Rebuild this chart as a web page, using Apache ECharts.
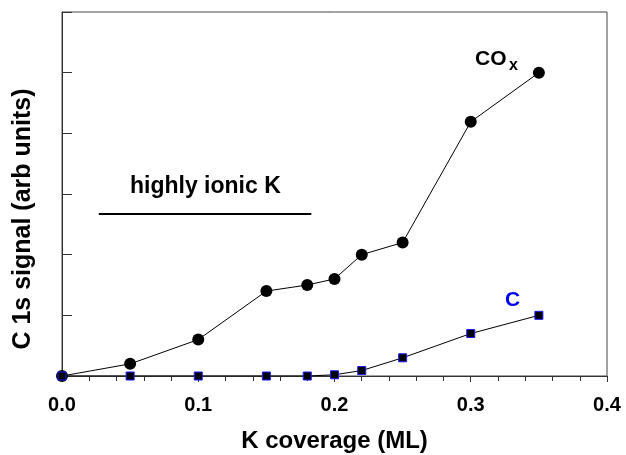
<!DOCTYPE html>
<html><head><meta charset="utf-8">
<script src="https://cdn.jsdelivr.net/npm/echarts@6/dist/echarts.min.js"></script>
<style>html,body{margin:0;padding:0;background:#fff}#c{width:626px;height:455px}</style>
</head><body><div id="c"></div>
<script>
const coverage = [0, 0.05, 0.1, 0.15, 0.18, 0.2, 0.22, 0.25, 0.3, 0.35];
const coxValues = [0, 0.20, 0.60, 1.40, 1.50, 1.60, 2.00, 2.20, 4.19, 5.00];
const cValues = [0, 0, 0, 0, 0, 0.02, 0.09, 0.30, 0.70, 1.00];
const xTicks = ['0.0', '0.1', '0.2', '0.3', '0.4'];
const ionicLineX = [0.027, 0.183];
const ionicLineY = 2.67;

const font = 'Liberation Sans, Arial, sans-serif';
const chart = echarts.init(document.getElementById('c'), null, {renderer: 'canvas'});
chart.setOption({
  animation: false,
  grid: {left: 62, right: 19, top: 12, bottom: 79, outerBoundsMode: 'none', show: true, borderColor: '#444', borderWidth: 1, backgroundColor: 'transparent'},
  xAxis: {
    type: 'value', min: 0, max: 0.4, interval: 0.1,
    name: 'K coverage (ML)', nameLocation: 'middle', nameGap: 53,
    nameTextStyle: {fontFamily: font, fontWeight: 'bold', fontSize: 24, color: '#000'},
    axisLine: {show: true, lineStyle: {color: '#333', width: 1}},
    axisTick: {show: true, inside: false, length: 6, lineStyle: {color: '#333'}},
    minorTick: {show: true, splitNumber: 5, length: 5, lineStyle: {color: '#333'}},
    splitLine: {show: false},
    axisLabel: {fontFamily: font, fontWeight: 'bold', fontSize: 20, color: '#000', margin: 19,
      formatter: v => xTicks[Math.round(v * 10)]}
  },
  yAxis: {
    type: 'value', min: 0, max: 6, interval: 1,
    name: 'C 1s signal (arb units)', nameLocation: 'middle', nameGap: 26,
    nameTextStyle: {fontFamily: font, fontWeight: 'bold', fontSize: 25, color: '#000', padding: [0, 50, 0, 0]},
    axisLine: {show: true, lineStyle: {color: '#333', width: 1}},
    axisTick: {show: true, inside: true, length: 10, lineStyle: {color: '#333'}},
    splitLine: {show: false},
    axisLabel: {show: false}
  },
  series: [
    {
      name: 'COx', type: 'line', data: coverage.map((x, i) => [x, coxValues[i]]),
      symbol: 'circle', symbolSize: 12, z: 3,
      lineStyle: {color: '#000', width: 1},
      itemStyle: {color: '#000'}
    },
    {
      name: 'C', type: 'line', data: cValues.map((v, i) => [coverage[i], v]),
      symbol: 'rect', symbolSize: 8, z: 4,
      lineStyle: {color: '#000', width: 1},
      itemStyle: {color: '#000', borderColor: '#1a1aff', borderWidth: 1}
    },
    {
      name: 'ionic', type: 'line', data: ionicLineX.map(x => [x, ionicLineY]),
      symbol: 'none', lineStyle: {color: '#000', width: 2}, silent: true
    }
  ],
  graphic: [
    {type: 'text', left: 130, top: 175, style: {text: 'highly ionic K', font: 'bold 23px ' + font, fill: '#000'}},
    {type: 'text', left: 475, top: 49, style: {text: 'CO', font: 'bold 21px ' + font, fill: '#000'}},
    {type: 'text', left: 509, top: 58, style: {text: 'x', font: 'bold 16px ' + font, fill: '#000'}},
    {type: 'text', left: 505, top: 290, style: {text: 'C', font: 'bold 21px ' + font, fill: '#0000ee'}}
  ]
});
</script></body></html>
